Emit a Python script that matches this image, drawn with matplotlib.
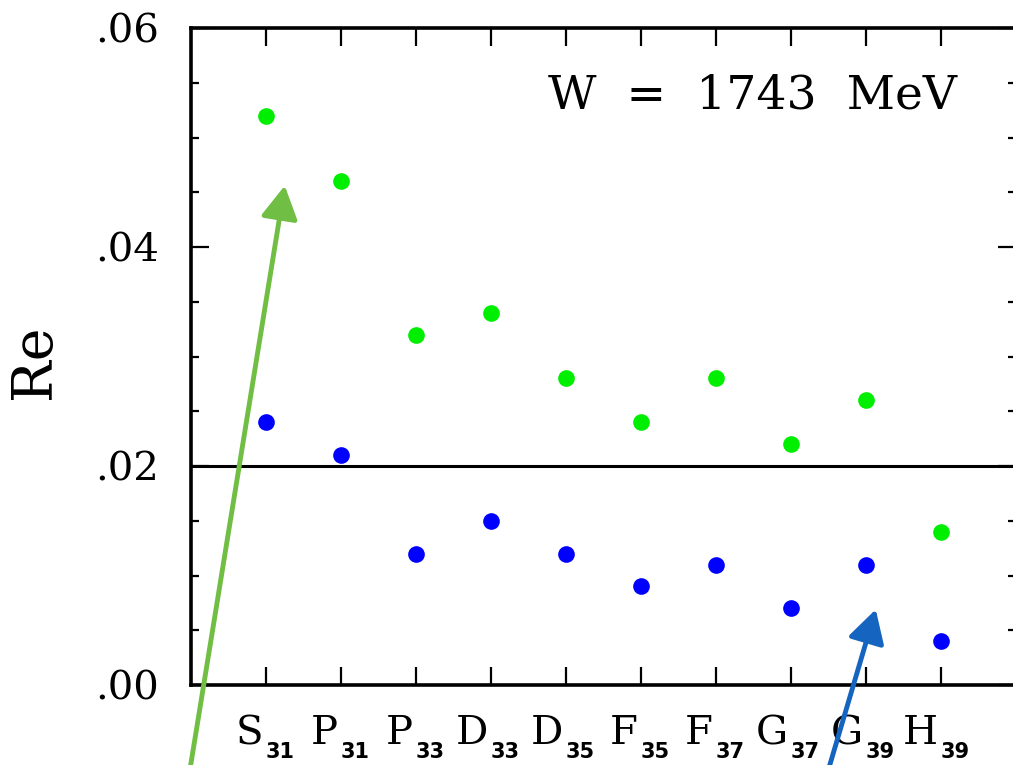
"""Re das ondas parciais isospin 3/2 em W = 1743 MeV."""

import matplotlib
matplotlib.use("Agg")
import matplotlib.pyplot as plt
from matplotlib.ticker import MultipleLocator, FuncFormatter

# dados
ondas = ["S", "P", "P", "D", "D", "F", "F", "G", "G", "H"]
indices = ["31", "31", "33", "33", "35", "35", "37", "37", "39", "39"]
re_verde = [0.052, 0.046, 0.032, 0.034, 0.028, 0.024, 0.028, 0.022, 0.026, 0.014]
re_azul = [0.024, 0.021, 0.012, 0.015, 0.012, 0.009, 0.011, 0.007, 0.011, 0.004]
linha_ref = 0.02
rotulo_w = "W  =  1743  MeV"

# setas (ponta, cauda) em coordenadas de dados
seta_verde = ((0.25, 0.0456), (-1.03, -0.0084))
seta_azul = ((8.13, 0.0069), (7.47, -0.0084))

COR_VERDE = "#00ee00"
COR_AZUL = "#0000ff"
COR_SETA_VERDE = "#70be44"
COR_SETA_AZUL = "#1565c0"
SERIF = "DejaVu Serif"

W, H = 1013, 765
fig = plt.figure(figsize=(W / 100, H / 100), dpi=100)
ax = fig.add_axes([191 / W, (H - 685) / H, 825 / W, 657 / H])

x = list(range(len(ondas)))
ax.plot(x, re_verde, "o", color=COR_VERDE, ms=12, mec="none", zorder=3)
ax.plot(x, re_azul, "o", color=COR_AZUL, ms=12, mec="none", zorder=3)
ax.axhline(linha_ref, color="black", lw=2.2, zorder=2)

ax.set_xlim(-1, 10)
ax.set_ylim(0, 0.06)
ax.yaxis.set_major_locator(MultipleLocator(0.02))
ax.yaxis.set_minor_locator(MultipleLocator(0.005))
ax.yaxis.set_major_formatter(FuncFormatter(lambda v, _: f"{v:.2f}".lstrip("0")))
ax.set_xticks(x)
ax.set_xticklabels([])

for s in ax.spines.values():
    s.set_linewidth(2.6)
ax.tick_params(which="both", direction="in", top=True, right=True, width=1.6)
ax.tick_params(which="major", length=13)
ax.tick_params(which="minor", length=5.8)
ax.tick_params(axis="y", pad=23, labelsize=29)
for lab in ax.get_yticklabels():
    lab.set_family(SERIF)

# rótulos do eixo x: letra serifada + índice em negrito
for i, (letra, sub) in enumerate(zip(ondas, indices)):
    ax.annotate(letra, xy=(i, 0), xycoords=("data", "axes fraction"),
                xytext=(-2.2, -42.5), textcoords="offset points",
                ha="right", va="baseline", fontsize=29, family=SERIF,
                annotation_clip=False)
    ax.annotate(sub, xy=(i, 0), xycoords=("data", "axes fraction"),
                xytext=(0, -52.5), textcoords="offset points",
                ha="left", va="baseline", fontsize=15, fontweight="bold",
                family="DejaVu Sans", annotation_clip=False)

ax.set_ylabel("Re", fontsize=40, family=SERIF)
ax.yaxis.set_label_coords(-0.156, 0.492)

ax.text(0.68, 0.877, rotulo_w, transform=ax.transAxes, ha="center",
        va="baseline", fontsize=34, family=SERIF)

for (tip, tail), cor in ((seta_verde, COR_SETA_VERDE), (seta_azul, COR_SETA_AZUL)):
    ax.annotate("", xy=tip, xytext=tail, annotation_clip=False,
                arrowprops=dict(arrowstyle="-|>,head_length=0.8,head_width=0.45",
                                mutation_scale=25, lw=3.5, color=cor,
                                shrinkA=0, shrinkB=0, clip_on=False))

fig.savefig("out.png", dpi=100)
